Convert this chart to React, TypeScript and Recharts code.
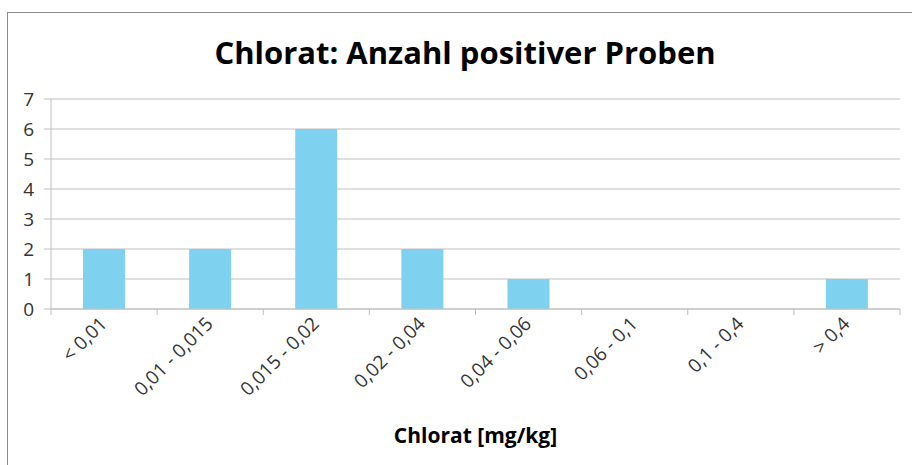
import React from 'react';
import { BarChart, Bar, XAxis, YAxis, CartesianGrid } from 'recharts';

const categories = ['< 0,01', '0,01 - 0,015', '0,015 - 0,02', '0,02 - 0,04', '0,04 - 0,06', '0,06 - 0,1', '0,1 - 0,4', '> 0,4'];
const counts = [2, 2, 6, 2, 1, 0, 0, 1];
const yTicks = [0, 1, 2, 3, 4, 5, 6, 7];

const FONT = '"Open Sans", sans-serif';
const GRID = '#bfbfbf';

const chartData = categories.map((name, i) => ({ name, count: counts[i] }));

// Excel style: tick marks sit between categories, labels rotated -45
const CategoryTick = (props: any) => {
  const { x, y, payload, index, visibleTicksCount } = props;
  const half = payload.offset || 0;
  return (
    <g>
      <line x1={x - half} y1={y - 8} x2={x - half} y2={y - 2} stroke={GRID} />
      {index === visibleTicksCount - 1 && (
        <line x1={x + half} y1={y - 8} x2={x + half} y2={y - 2} stroke={GRID} />
      )}
      <text
        x={x + 4}
        y={y + 8}
        textAnchor="end"
        fontSize={19}
        fontFamily={FONT}
        fill="#333"
        transform={`rotate(-45, ${x + 4}, ${y + 8})`}
      >
        {payload.value}
      </text>
    </g>
  );
};

export default function App() {
  return (
    <div style={{ position: 'absolute', left: 0, top: 0, width: 912, height: 465, background: '#fff', overflow: 'hidden' }}>
      <div
        style={{
          position: 'absolute',
          left: 7,
          top: 12,
          width: 920,
          height: 470,
          borderLeft: '1.5px solid #8c8c8c',
          borderTop: '1.5px solid #8c8c8c',
        }}
      />
      <div
        style={{
          position: 'absolute',
          left: 0,
          top: 31,
          width: 930,
          textAlign: 'center',
          fontFamily: FONT,
          fontWeight: 'bold',
          fontSize: 31,
          color: '#000',
        }}
      >
        Chlorat: Anzahl positiver Proben
      </div>
      <div style={{ position: 'absolute', left: 0, top: 0 }}>
        <BarChart width={912} height={465} data={chartData} margin={{ top: 99, right: 12, left: 11, bottom: 16 }}>
          <CartesianGrid vertical={false} stroke={GRID} />
          <XAxis
            dataKey="name"
            interval={0}
            height={140}
            axisLine={{ stroke: GRID }}
            tickLine={false}
            tick={<CategoryTick />}
            label={{
              value: 'Chlorat  [mg/kg]',
              position: 'insideBottom',
              offset: 6,
              fontSize: 21,
              fontWeight: 'bold',
              fontFamily: FONT,
              fill: '#000',
            }}
          />
          <YAxis
            width={40}
            domain={[0, 7]}
            ticks={yTicks}
            interval={0}
            axisLine={{ stroke: GRID }}
            tickLine={{ stroke: GRID }}
            tickSize={7}
            tickMargin={10}
            tick={{ fontSize: 19, fontFamily: FONT, fill: '#333' }}
          />
          <Bar dataKey="count" fill="#7fd1f0" barSize={42} isAnimationActive={false} />
        </BarChart>
      </div>
    </div>
  );
}
